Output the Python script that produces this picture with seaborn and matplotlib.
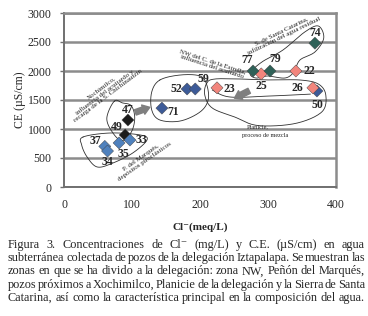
import numpy as np
import pandas as pd
import seaborn as sns
from matplotlib import pyplot as plt

sns.set_style('white')
plt.rcParams['font.family'] = ['Liberation Serif', 'DejaVu Serif']
plt.rcParams['mathtext.fontset'] = 'stix'

# data
well = ['47', '49', '37', '34', '35', '33', '71', '52', '59', '50',
        '23', '25', '26', '22', '77', '79', '74']
cl = [94, 90, 60, 64, 81, 97, 144, 181, 193, 372,
      225, 290, 366, 341, 278, 303, 369]
ce = [1155, 897, 700, 620, 760, 810, 1360, 1690, 1690, 1655,
      1710, 1950, 1710, 2000, 2000, 2000, 2480]
zone = ['Xochimilco', 'Xochimilco', 'Marques', 'Marques', 'Marques', 'Marques',
        'NW', 'NW', 'NW', 'NW',
        'Planicie', 'Planicie', 'Planicie', 'Planicie',
        'Catarina', 'Catarina', 'Catarina']
x_ticks = [0, 100, 200, 300, 400]
y_ticks = [0, 500, 1000, 1500, 2000, 2500, 3000]

df = pd.DataFrame({'well': well, 'cl': cl, 'ce': ce, 'zone': zone})

colors = {'Xochimilco': '#1c1c1c', 'Marques': '#4f81bd', 'NW': '#3d5b98',
          'Planicie': '#f2857c', 'Catarina': '#2f6158'}

# label offsets in points (dx, dy)
lab_off = {'47': (0, 7), '49': (-6, 6), '37': (-7, 4), '34': (0, -8), '35': (3, -8),
           '33': (8, 0), '71': (8, -3), '52': (-8, 0), '59': (6, 7), '50': (0, -10),
           '23': (9, -1), '25': (0, -9), '26': (-11, 0), '22': (10, 0), '77': (-4, 8),
           '79': (4, 9), '74': (0, 7)}

W, H = 368, 316
fig = plt.figure(figsize=(W / 100, H / 100), dpi=100)
ax = fig.add_axes([64 / W, 1 - 187 / H, (336 - 64) / W, (187 - 13) / H])

sns.scatterplot(x='cl', y='ce', hue='zone', palette=colors, data=df, marker='D',
                s=38, edgecolor='#404040', linewidth=0.3, legend=False, zorder=5, ax=ax)

for _, r in df.iterrows():
    ax.annotate(r['well'], (r['cl'], r['ce']), xytext=lab_off[r['well']],
                textcoords='offset points', ha='center', va='center',
                fontsize=8.5, fontweight='bold', zorder=6)

ax.set(xlim=(0, 400), ylim=(0, 3000), xlabel='', ylabel='')
ax.set_xticks(x_ticks)
ax.set_yticks(y_ticks)
ax.grid(True, axis='y', color='#8c8c8c', lw=1.8)
ax.set_axisbelow(True)
for s in ['top', 'right']:
    ax.spines[s].set_color('#8c8c8c')
    ax.spines[s].set_linewidth(1.8)
for s in ['left', 'bottom']:
    ax.spines[s].set_color('#707070')
    ax.spines[s].set_linewidth(1.4)
ax.tick_params(axis='x', direction='inout', length=4, width=1, color='#707070',
               pad=7, labelsize=8.5)
ax.tick_params(axis='y', direction='out', length=3, width=1, color='#707070',
               pad=6, labelsize=8.5, left=True)


def smooth(pts, closed=True, n=14):
    p = np.array(pts, float)
    if closed:
        p = np.vstack([p[-1], p, p[0], p[1]])
    else:
        p = np.vstack([p[0], p, p[-1]])
    out = []
    t = np.linspace(0, 1, n, endpoint=False)[:, None]
    for i in range(1, len(p) - 2):
        p0, p1, p2, p3 = p[i - 1], p[i], p[i + 1], p[i + 2]
        out.append(0.5 * ((2 * p1) + (-p0 + p2) * t + (2 * p0 - 5 * p1 + 4 * p2 - p3) * t ** 2
                          + (-p0 + 3 * p1 - 3 * p2 + p3) * t ** 3))
    out = np.vstack(out)
    if closed:
        out = np.vstack([out, out[:1]])
    return out


# zone envelopes (annotation outlines)
loops = [
    [(74, 1480), (63, 1190), (71, 948), (85, 800), (99, 948), (104, 1190), (99, 1400), (86, 1450)],
    [(28, 862), (68, 931), (112, 897), (122, 810), (101, 586), (72, 414), (49, 345), (34, 517), (26, 724)],
    [(141, 1845), (129, 1638), (129, 1328), (141, 1155), (171, 1138), (200, 1293), (212, 1500),
     (210, 1759), (200, 1914), (171, 1931)],
    [(210, 1793), (207, 1586), (218, 1362), (251, 1207), (285, 1060), (340, 1095), (379, 1293),
     (385, 1586), (374, 1776), (347, 1845), (303, 1845), (259, 1862), (222, 1862)],
    [(274, 1966), (291, 2155), (322, 2362), (354, 2672), (374, 2776), (382, 2569), (369, 2328),
     (347, 2190), (338, 1983), (325, 1879), (300, 1914), (282, 1879)],
]
for lp in loops:
    c = smooth(lp)
    ax.plot(c[:, 0], c[:, 1], color='#303030', lw=0.6, zorder=3)
c = smooth([(218, 1672), (244, 1552), (303, 1569), (365, 1603)], closed=False)
ax.plot(c[:, 0], c[:, 1], color='#303030', lw=0.6, zorder=3)

arrow = dict(arrowstyle='simple,head_length=0.5,head_width=0.7,tail_width=0.4',
             color='#7f7f7f', mutation_scale=10)
ax.annotate('', xy=(130, 1390), xytext=(101, 1270), arrowprops=arrow, zorder=4)
ax.annotate('', xy=(247, 1510), xytext=(276, 1680), arrowprops=arrow, zorder=4)

note = dict(ha='center', va='center', fontsize=5, color='#202020', linespacing=1.0, zorder=4)
ax.text(60, 1640, 'Xochimilco,\ninfluencia del acuitardo y\nrecarga de la S. Chichinautzin',
        rotation=37, **note)
ax.text(218, 2120, 'NW del C. de la Estrella,\ninfluencia del acuitardo', rotation=-18, **note)
ax.text(322, 2650, 'S. de Santa Catarina,\ninfiltración del agua residual', rotation=26, **note)
ax.text(116, 470, 'P. del Marqués,\ndepósitos piroclásticos', rotation=35, **note)
ax.text(285, 1035, 'Planicie,', ha='center', va='center', fontsize=4.5, color='#202020', zorder=4)
ax.text(296, 895, 'proceso de mezcla', ha='center', va='center', fontsize=4.5, color='#202020')

fig.text(20 / W, 1 - 100 / H, 'CE (µS/cm)', rotation=90, ha='center', va='center', fontsize=8.5)
fig.text(200 / W, 1 - 227 / H, 'Cl\u207b(meq/L)', ha='center', va='center', fontsize=8,
         fontweight='bold')

caption = [
    'Figura 3. Concentraciones de Cl\u207b (mg/L) y C.E. (µS/cm) en agua',
    'subterránea colectada de pozos de la delegación Iztapalapa. Se muestran las',
    'zonas en que se ha divido a la delegación: zona NW, Peñón del Marqués,',
    'pozos próximos a Xochimilco, Planicie de la delegación y la Sierra de Santa',
    'Catarina, así como la característica principal en la composición del agua.',
]
renderer = fig.canvas.get_renderer()
x0, x1 = 8, 365
for i, line in enumerate(caption):
    y = 1 - (245 + i * 13.2) / H
    words = line.split(' ')
    texts = [fig.text(0, y, w, ha='left', va='center', fontsize=8.8) for w in words]
    widths = [t.get_window_extent(renderer).width for t in texts]
    gap = (x1 - x0 - sum(widths)) / (len(words) - 1)
    x = x0
    for t, w in zip(texts, widths):
        t.set_x(x / W)
        x += w + gap

plt.savefig('out.png', dpi=100)
